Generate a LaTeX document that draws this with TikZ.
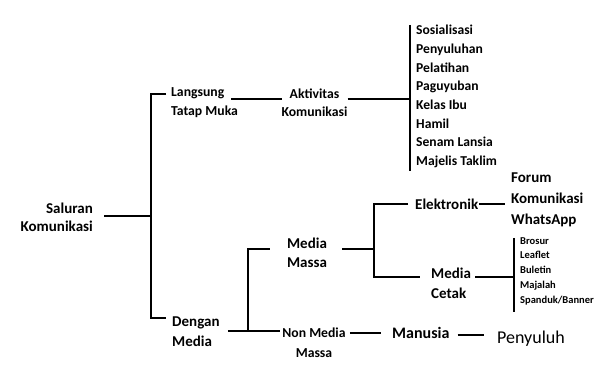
\documentclass[tikz,border=0pt]{standalone}
\usepackage{fontspec}
\setmainfont{Carlito}
\usetikzlibrary{calc}
\begin{document}
\begin{tikzpicture}[x=1pt,y=-1pt,
  txt/.style={inner sep=0pt, text=black},
  fs/.style 2 args={txt, font=\bfseries\fontsize{#1}{#2}\selectfont},
  fr/.style 2 args={txt, font=\fontsize{#1}{#2}\selectfont},
  conn/.style={line width=2.6pt, draw=black, line join=miter}]
\useasboundingbox[fill=white] (0,0) rectangle (614,374);

% ---- nodes ----
\node[fs={15}{18}, align=right, anchor=east] (sal) at (93,217) {Saluran\\Komunikasi};
\node[fs={13.7}{19}, align=left, anchor=west] (lang) at (171,102.5) {Langsung\\Tatap Muka};
\node[fs={13.7}{18}, align=center] (akt) at (314.5,103) {Aktivitas\\Komunikasi};
\node[fs={13.6}{18.7}, align=left, anchor=west] (list1) at (416,96.5)
  {Sosialisasi\\Penyuluhan\\Pelatihan\\Paguyuban\\Kelas Ibu\\Hamil\\Senam Lansia\\Majelis Taklim};
\node[fs={15}{20}, align=left, anchor=west] (deng) at (172,332) {Dengan\\Media};
\node[fs={15}{19}, align=center] (mm) at (307,252.5) {Media\\Massa};
\node[fs={13.7}{20}, align=center] (nm) at (314,343) {Non Media\\Massa};
\node[fs={15}{18}, anchor=west] (el) at (415,204) {Elektronik};
\node[fs={15}{20}, align=left, anchor=west] (mc) at (431,283) {Media\\Cetak};
\node[fs={15}{21}, align=left, anchor=west] (forum) at (511,200) {Forum\\Komunikasi\\WhatsApp};
\node[fs={10.5}{14.75}, align=left, anchor=west] (list2) at (520,271)
  {Brosur\\Leaflet\\Buletin\\Majalah\\Spanduk/Banner};
\node[fs={16}{19}, anchor=west] (man) at (392,333) {Manusia};
\node[fr={18}{21}, anchor=west] (pen) at (497,339) {Penyuluh};

% ---- junction coordinates ----
\coordinate (b1) at (151,216);
\coordinate (b1t) at (151,94);
\coordinate (b1b) at (151,318);
\coordinate (j1) at (410,99);
\coordinate (v1t) at (410,25);
\coordinate (v1b) at (410,171);
\coordinate (j2) at (248,331);
\coordinate (j2t) at (248,249);
\coordinate (j3) at (374,249);
\coordinate (j3t) at (374,204);
\coordinate (j3b) at (374,277);
\coordinate (j4) at (514,277);
\coordinate (j4t) at (514,238);
\coordinate (j4b) at (514,312);
\coordinate (j5) at (470,335);

% ---- connectors ----
\draw[conn, shorten <=11pt] (sal.east |- b1) -- (b1);
\draw[conn, shorten <=5pt, shorten >=6pt] (lang.west |- b1t) -- (b1t) -- (b1b) -- (deng.west |- b1b);
\draw[conn, shorten <=60pt, shorten >=-1pt] (lang.west |- j1) -- (akt.west |- j1);
\draw[conn] (akt.east |- j1) -- (j1);
\draw[conn] (v1t) -- (v1b);

\draw[conn, shorten <=8pt, shorten >=2pt] (deng.east |- j2) -- (nm.west |- j2);
\draw[conn, shorten >=17pt] (j2) -- (j2t) -- (mm.west |- j2t);
\draw[conn, shorten <=15pt] (mm.east |- j3) -- (j3);
\draw[conn, shorten <=7pt, shorten >=11pt] (el.west) -- (j3t) -- (j3b) -- (mc.west |- j3b);
\draw[conn, shorten <=4pt] (mc.east |- j4) -- (j4);
\draw[conn] (j4t) -- (j4b);
\draw[conn, shorten <=1pt, shorten >=6pt] (el.east) -- (forum.west |- el.east);
\draw[conn, shorten <=4pt, shorten >=11pt] (nm.east |- man.west) -- (man.west);
\draw[conn, shorten <=8pt, shorten >=13pt] (man.east |- j5) -- (pen.west |- j5);
\end{tikzpicture}
\end{document}
